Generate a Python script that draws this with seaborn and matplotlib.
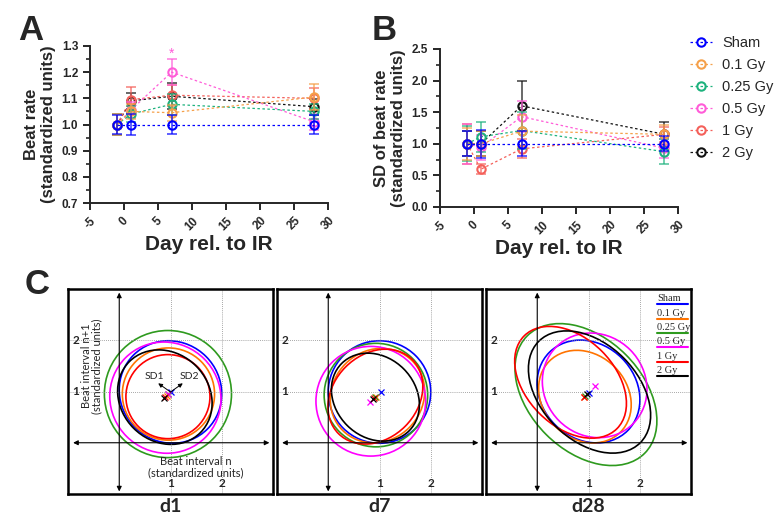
import matplotlib
matplotlib.use('Agg')
import matplotlib.pyplot as plt
import seaborn as sns
from matplotlib.patches import Ellipse
from matplotlib.ticker import MultipleLocator, AutoMinorLocator, FormatStrFormatter

sns.set_style('ticks')
plt.rcParams['font.family'] = ['Liberation Sans', 'DejaVu Sans']
plt.rcParams['axes.unicode_minus'] = False

# ---- data: time course (panels A, B) ----
groups = ['Sham', '0.1 Gy', '0.25 Gy', '0.5 Gy', '1 Gy', '2 Gy']
days = [-1, 1, 7, 28]
colors_ab = ['#0000FF', '#F5A04A', '#1DB27D', '#FF5CD8', '#F4605A', '#111111']

rate_mean = [[1.0, 1.0, 1.0, 1.0],
             [1.0, 1.05, 1.045, 1.105],
             [1.0, 1.04, 1.077, 1.05],
             [1.0, 1.055, 1.2, 1.01],
             [1.0, 1.095, 1.112, 1.10],
             [1.0, 1.09, 1.108, 1.068]]
rate_err = [[0.035, 0.04, 0.038, 0.037],
            [0.04, 0.03, 0.03, 0.05],
            [0.04, 0.03, 0.04, 0.03],
            [0.04, 0.03, 0.05, 0.03],
            [0.04, 0.05, 0.04, 0.04],
            [0.04, 0.03, 0.05, 0.03]]

sd_mean = [[1.0, 1.0, 1.0, 1.0],
           [1.0, 1.0, 1.2, 1.15],
           [1.0, 1.11, 1.21, 0.875],
           [1.0, 0.945, 1.43, 0.93],
           [1.0, 0.597, 0.92, 1.15],
           [1.0, 1.0, 1.6, 1.15]]
sd_err = [[0.2, 0.22, 0.2, 0.12],
          [0.25, 0.2, 0.25, 0.15],
          [0.28, 0.24, 0.3, 0.2],
          [0.32, 0.2, 0.25, 0.15],
          [0.32, 0.08, 0.15, 0.12],
          [0.2, 0.2, 0.4, 0.19]]

# ---- data: Poincare ellipses (panel C) ----
colors_c = ['#0000FF', '#FF7300', '#2E9A1E', '#FF00FF', '#FF0000', '#000000']
days_c = ['d1', 'd7', 'd28']
cx = [[1.0, 0.96, 0.95, 0.90, 0.95, 0.89],
      [1.0, 0.96, 0.93, 0.83, 0.92, 0.92],
      [1.0, 0.93, 0.95, 1.12, 0.65, 1.02]]
cy = [[0.99, 0.95, 0.95, 0.88, 0.90, 0.89],
      [0.99, 0.92, 0.93, 0.81, 0.90, 0.89],
      [1.0, 0.90, 0.94, 1.12, 1.18, 0.99]]
sd1 = [[1.02, 0.90, 1.24, 1.10, 0.82, 0.98],
       [1.0, 0.88, 1.01, 1.07, 0.82, 0.93],
       [1.08, 0.98, 1.62, 1.06, 1.28, 1.40]]
sd2 = [[0.98, 0.90, 1.24, 1.07, 0.82, 0.86],
       [1.0, 0.96, 1.01, 1.07, 1.02, 0.78],
       [0.92, 0.82, 1.10, 0.98, 0.86, 0.94]]
mean_x = [[1.0, 0.93, 0.95, 0.96, 0.90, 0.88],
          [1.02, 0.93, 0.92, 0.82, 0.90, 0.88],
          [1.0, 0.92, 0.93, 1.13, 0.91, 0.97]]
mean_y = [[1.0, 0.92, 0.95, 0.96, 0.89, 0.87],
          [1.0, 0.90, 0.90, 0.80, 0.88, 0.86],
          [0.97, 0.90, 0.92, 1.10, 0.89, 0.95]]

fig = plt.figure(figsize=(7.78, 5.2), dpi=100)
W, H = 778, 520


def px_axes(l, t, r, b):
    return fig.add_axes([l / W, 1 - b / H, (r - l) / W, (b - t) / H])


def draw_timecourse(ax, means, errs, ymin, ymax, ystep, ylabel):
    handles = {}
    for i in reversed(range(len(groups))):
        c = colors_ab[i]
        ax.errorbar(days, means[i], yerr=errs[i], fmt='none', ecolor=c,
                    elinewidth=1.1, capsize=3.5, capthick=1.1, alpha=0.8)
        sns.lineplot(x=days, y=means[i], ax=ax, color=c, marker='o', mec=c,
                     mfc='none', mew=1.5, ms=6, linestyle=(0, (2, 2)), lw=0.9,
                     label=groups[i], legend=False)
        handles[groups[i]] = ax.lines[-1]
    ax.set_xlim(-5, 30)
    ax.set_ylim(ymin, ymax)
    ax.xaxis.set_major_locator(MultipleLocator(5))
    ax.yaxis.set_major_locator(MultipleLocator(ystep))
    ax.yaxis.set_minor_locator(AutoMinorLocator(2))
    ax.yaxis.set_major_formatter(FormatStrFormatter('%.1f'))
    for s in ['top', 'right']:
        ax.spines[s].set_visible(False)
    for s in ['left', 'bottom']:
        ax.spines[s].set_linewidth(1.4)
    ax.tick_params(axis='both', which='major', length=5, width=1.4, labelsize=8.5)
    ax.tick_params(axis='y', which='minor', length=3, width=1.2)
    for lab in ax.get_xticklabels():
        lab.set_rotation(45)
        lab.set_fontweight('bold')
    for lab in ax.get_yticklabels():
        lab.set_fontweight('bold')
    ax.set_xlabel('Day rel. to IR', fontsize=15, fontweight='bold', labelpad=2)
    ax.set_ylabel(ylabel, fontsize=12, fontweight='bold', labelpad=4)
    return [handles[g] for g in groups]


axA = px_axes(90, 46, 328, 203)
draw_timecourse(axA, rate_mean, rate_err, 0.7, 1.3, 0.1, 'Beat rate\n(standardized units)')
axA.text(7, 1.245, '*', color=colors_ab[3], ha='center', va='bottom', fontsize=10)

axB = px_axes(440, 49, 678, 207)
hb = draw_timecourse(axB, sd_mean, sd_err, 0.0, 2.5, 0.5, 'SD of beat rate\n(standardized units)')

fig.legend(hb, groups, loc='upper left', bbox_to_anchor=(690 / W, 1 - 36 / H),
           frameon=False, fontsize=10.5, handlelength=1.5, handletextpad=0.7,
           labelspacing=0.55, borderpad=0, borderaxespad=0)

fig.text(18 / W, 1 - 14 / H, 'A', fontsize=25, fontweight='bold', va='top')
fig.text(372 / W, 1 - 14 / H, 'B', fontsize=25, fontweight='bold', va='top')
fig.text(25 / W, 1 - 268 / H, 'C', fontsize=25, fontweight='bold', va='top')

# ---- panel C ----
cfont = ['Lato', 'DejaVu Sans']
arrow_kw = dict(arrowstyle='<|-|>', lw=0.8, color='black', mutation_scale=7,
                shrinkA=0, shrinkB=0)
lefts = [68, 277, 486]
for k, name in enumerate(days_c):
    ax = px_axes(lefts[k], 289, lefts[k] + 205, 494)
    ax.set_xlim(-1, 3)
    ax.set_ylim(-1, 3)
    ax.set_xticks([])
    ax.set_yticks([])
    for s in ax.spines.values():
        s.set_visible(True)
        s.set_linewidth(1.8)
        s.set_color('black')
    for v in [1, 2]:
        ax.axvline(v, color='#8a8a8a', lw=0.6, ls=(0, (1, 1.5)))
        ax.axhline(v, color='#8a8a8a', lw=0.6, ls=(0, (1, 1.5)))
        ax.text(v, -0.8, str(v), ha='center', va='center', fontsize=8.5,
                fontweight='bold', family=cfont)
        ax.text(-0.85, v, str(v), ha='center', va='center', fontsize=8.5,
                fontweight='bold', family=cfont)
    ax.annotate('', xy=(0, 2.93), xytext=(0, -0.95), arrowprops=arrow_kw)
    ax.annotate('', xy=(2.93, 0), xytext=(-0.9, 0), arrowprops=arrow_kw)
    for i in range(len(groups)):
        ax.add_patch(Ellipse((cx[k][i], cy[k][i]), 2 * sd2[k][i], 2 * sd1[k][i],
                             angle=45, fill=False, ec=colors_c[i], lw=1.2))
    for i in range(len(groups)):
        ax.plot(mean_x[k][i], mean_y[k][i], marker='x', color=colors_c[i],
                ms=4, mew=0.9)
    ax.text(0.5, -0.02, name, transform=ax.transAxes, ha='center', va='top',
            fontsize=14, fontweight='bold', family=cfont)
    if k == 0:
        ax.text(-0.54, 1.5, 'Beat interval n+1\n(standardized units)', rotation=90,
                ha='center', va='center', fontsize=8, family=cfont, linespacing=1.0)
        ax.text(1.5, -0.47, 'Beat interval n\n(standardized units)',
                ha='center', va='center', fontsize=8, family=cfont, linespacing=1.0)
        ak = dict(arrowstyle='-|>', lw=0.7, color='black', mutation_scale=6,
                  shrinkA=0, shrinkB=0)
        ax.annotate('', xy=(0.76, 1.16), xytext=(1.0, 0.99), arrowprops=ak)
        ax.annotate('', xy=(1.24, 1.16), xytext=(1.0, 0.99), arrowprops=ak)
        ax.text(0.68, 1.3, 'SD1', ha='center', va='center', fontsize=7.5, family=cfont)
        ax.text(1.36, 1.3, 'SD2', ha='center', va='center', fontsize=7.5, family=cfont)
    if k == 2:
        for i in range(len(groups)):
            yl = 2.70 - 0.28 * i
            ax.plot([2.33, 2.95], [yl, yl], color=colors_c[i], lw=1.5)
            ax.text(2.34, yl + 0.02, groups[i], ha='left', va='bottom',
                    fontsize=7.5, family=['Liberation Serif'])

fig.savefig('out.png', dpi=100)
